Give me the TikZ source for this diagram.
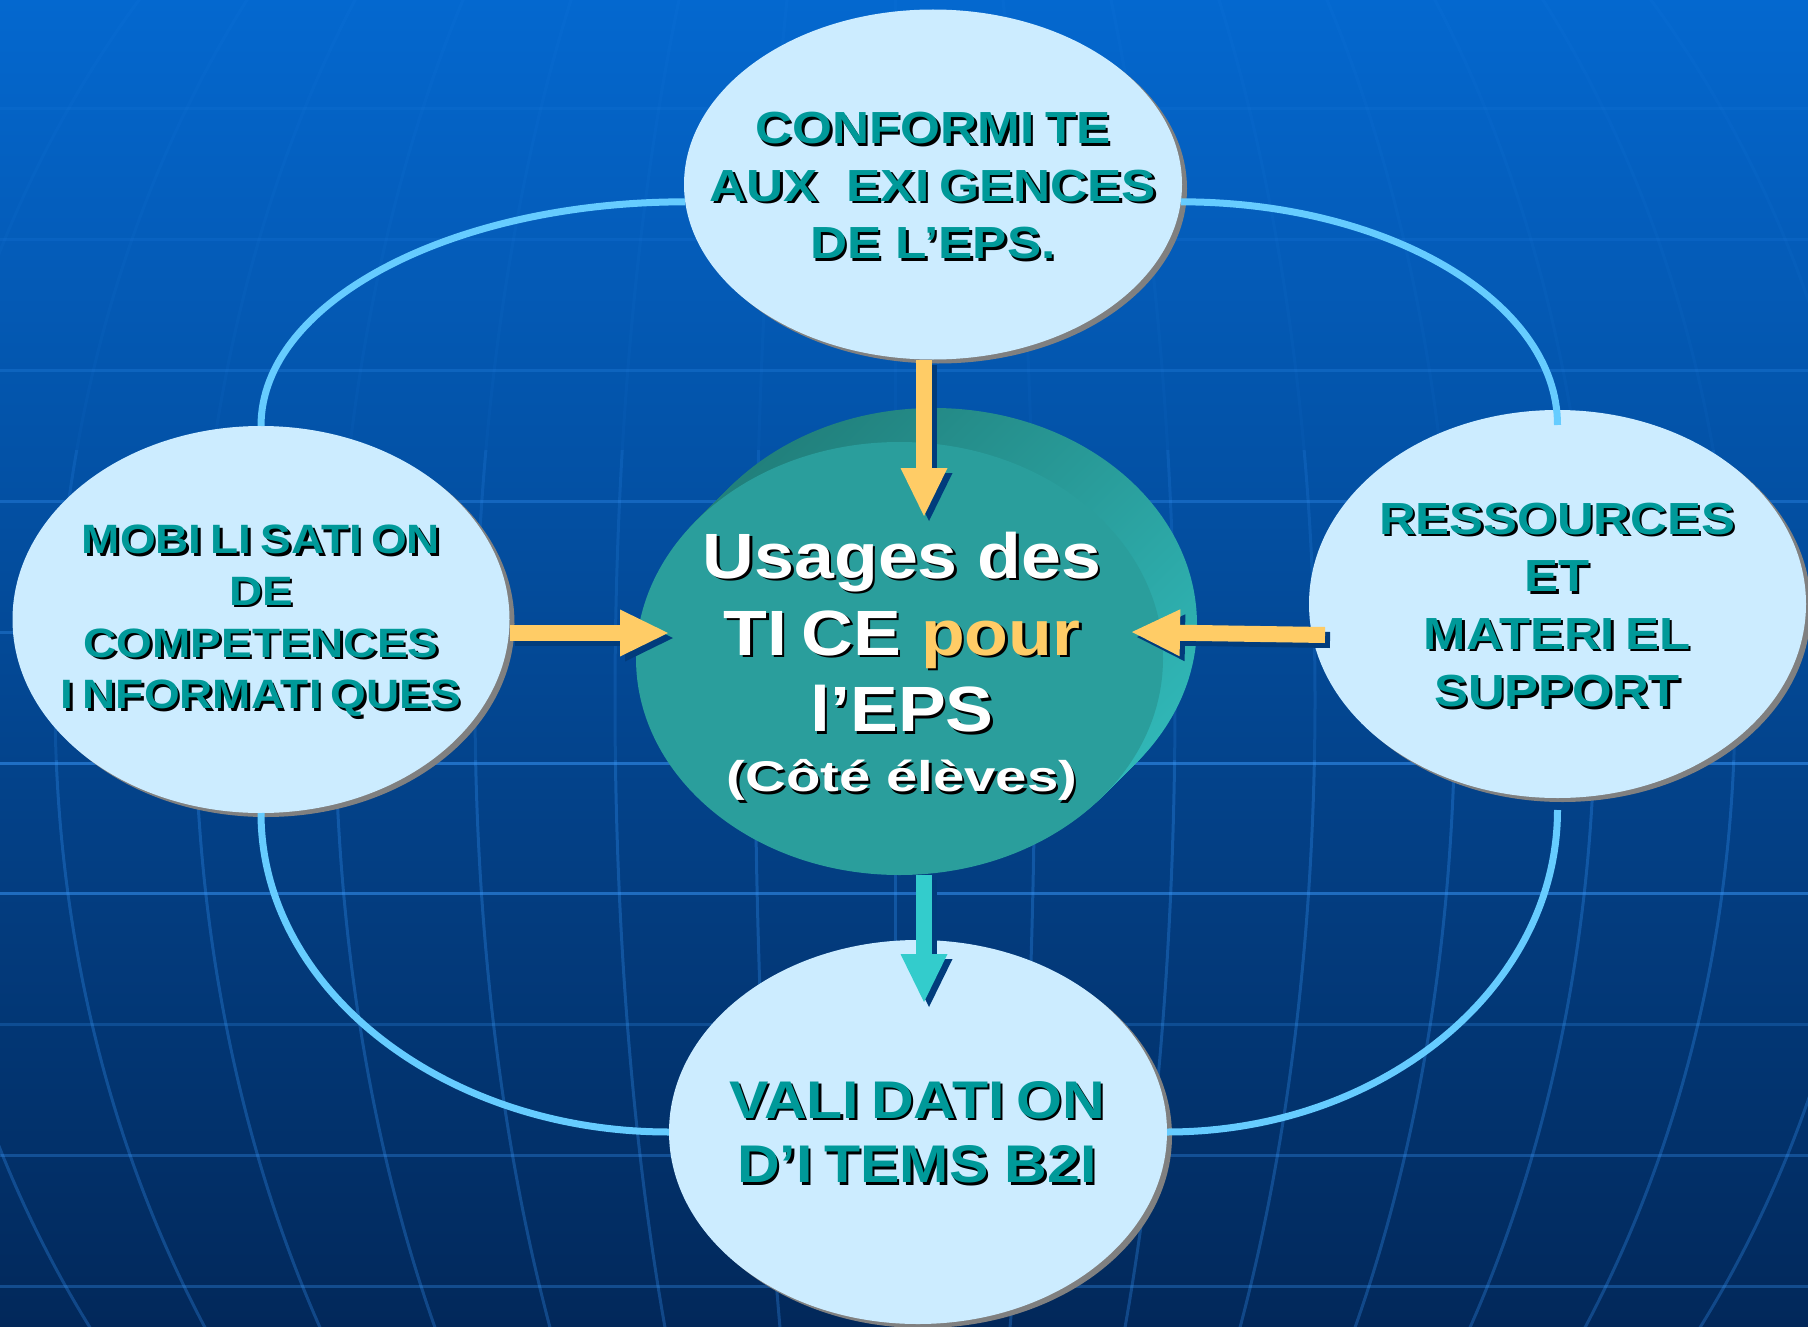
\documentclass[tikz,border=0pt]{standalone}
\usepackage{fontspec}
\setmainfont{Liberation Sans}
\usetikzlibrary{arrows.meta,shapes.geometric,shadows}

% the capital I is followed by a small gap, as in the slide
\XeTeXinterchartokenstate=1
\XeTeXcharclass`I=7
\XeTeXinterchartoks 7 0 = {\kern.2em}

\definecolor{bgTop}{HTML}{0468CF}
\definecolor{bgMid}{HTML}{004D9E}
\definecolor{bgBottom}{HTML}{02285A}
\definecolor{gridBlue}{HTML}{3C9CFF}
\definecolor{ringBlue}{HTML}{66CCFF}
\definecolor{bubbleFill}{HTML}{CCECFF}
\definecolor{bubbleShade}{HTML}{808080}
\definecolor{bubbleText}{HTML}{009999}
\definecolor{discFace}{HTML}{2A9E9C}
\definecolor{discTop}{HTML}{21807C}
\definecolor{discSide}{HTML}{30B6B6}
\definecolor{arrowYellow}{HTML}{FFCC66}
\definecolor{arrowCyan}{HTML}{33CCCC}
\definecolor{arrowShade}{HTML}{013C7C}

\tikzset{
  bubble/.style={ellipse, fill=bubbleFill, inner sep=0pt, outer sep=0pt,
    drop shadow={shadow xshift=5pt, shadow yshift=-4pt, fill=bubbleShade, opacity=1}},
  ringline/.style={draw=ringBlue, line width=7pt},
  gridline/.style={draw=gridBlue, line width=3pt},
  arrowbody/.style={line width=16pt, -{Triangle[length=48pt, width=47pt, line width=0pt]}},
  txt/.style 2 args={align=center, inner sep=0pt, font=\bfseries\fontsize{#1pt}{#2pt}\selectfont},
}

% arrow with its dark shadow
\newcommand{\fleche}[3]{%
  \draw[arrowbody, draw=arrowShade, transform canvas={shift={(5,5)}}] (#1) -- (#2);
  \draw[arrowbody, draw=#3] (#1) -- (#2);}

\begin{document}
\begin{tikzpicture}[x=1pt, y=-1pt]
  \useasboundingbox (0,0) rectangle (1808,1327);
  % background and globe grid
  \shade[top color=bgTop, middle color=bgMid, bottom color=bgBottom] (0,0) rectangle (1808,1327);
  \foreach \k/\o in {0/0.08,1/0.1,2/0.2,3/0.3,4/0.3,5/0.5,6/0.5,7/0.22,8/0.3,9/0.3}
    \draw[gridline, draw opacity=\o] (0,109+130.8*\k) -- (1808,109+130.8*\k);
  \foreach \y/\o in {0/0.05,450/0.12,760/0.14} {
    \begin{scope}
      \clip (0,\y) rectangle (1808,1327);
      \draw[gridline, draw opacity=\o] (895,0) -- (895,1327);
      \foreach \k in {1,...,7}
        \draw[gridline, draw opacity=\o] (895,700) ellipse [x radius=140*\k, y radius=1100];
    \end{scope}
  }

  % outer bubbles
  \node[bubble, minimum width=498pt, minimum height=350pt] (top) at (933,184.5) {};
  \node[bubble, minimum width=497pt, minimum height=387pt] (left) at (261,619.5) {};
  \node[bubble, minimum width=497pt, minimum height=388pt] (right) at (1557.5,604) {};
  \node[bubble, minimum width=498pt, minimum height=384pt] (bottom) at (918,1132) {};

  % ring between the bubbles
  \draw[ringline] (top.184) .. controls +(-234,0) and +(0,-124) .. (left.north);
  \draw[ringline] (top.356) .. controls +(208,0) and +(0,-123) .. ([yshift=-15pt]right.north);
  \draw[ringline] (left.south) .. controls +(0,176) and +(-225,0) .. (bottom.west);
  \draw[ringline] ([yshift=-12pt]right.south) .. controls +(0,178) and +(215,0) .. (bottom.east);

  % centre disc
  \foreach \i in {34,32,...,2}
    \shade[top color=discTop, bottom color=discSide, shading angle=45]
      (899.5+\i,658.5-\i) ellipse [x radius=263.5pt, y radius=216.5pt];
  \node[ellipse, fill=discFace, inner sep=0pt, minimum width=527pt, minimum height=433pt] (disc) at (899.5,658.5) {};

  % arrows
  \coordinate (inN) at (924,516);
  \coordinate (inW) at (668,633);
  \coordinate (inE) at (1132,632);
  \coordinate (outS) at (924,1002);
  \fleche{top.south -| inN}{inN}{arrowYellow}
  \fleche{left.east |- inW}{inW}{arrowYellow}
  \fleche{[xshift=16pt,yshift=-31pt]right.west}{inE}{arrowYellow}
  \fleche{disc.south -| outS}{outS}{arrowCyan}

  % texts, shadow first
  \foreach \d/\cT/\cW/\cP in {2.5/black/black/black, 0/bubbleText/white/arrowYellow} {
    \begin{scope}[transform canvas={shift={(\d,\d)}}]
      \node[txt={45}{57.5}, xscale=1.14, text=\cT] (topTxt) at (933,186) {CONFORMITE\\AUX\ \ EXIGENCES\\DE L’EPS.};
      \node[txt={41}{51.7}, xscale=1.12, text=\cT] (leftTxt) at (261,621) {MOBILISATION\\DE\\COMPETENCES\\INFORMATIQUES};
      \node[txt={45}{57.5}, xscale=1.13, text=\cT] (rightTxt) at (1557,605) {RESSOURCES\\ET\\MATERIEL\\SUPPORT};
      \node[txt={53}{64.5}, xscale=1.115, text=\cT] (bottomTxt) at (917,1132) {VALIDATION\\D’ITEMS B2I};
      \node[txt={64}{77}, xscale=1.12, text=\cW, anchor=base] (discL1) at (902,578) {Usages des};
      \node[txt={64}{77}, xscale=1.12, text=\cW, anchor=base] (discL2) at (902,655) {TICE \textcolor{\cP}{pour}};
      \node[txt={64}{77}, xscale=1.12, text=\cW, anchor=base] (discL3) at (902,731.7) {l’EPS};
      \node[txt={43}{50}, xscale=1.31, text=\cW, anchor=base] (discL4) at (902,791.7) {(Côté élèves)};
    \end{scope}
  }
\end{tikzpicture}
\end{document}
